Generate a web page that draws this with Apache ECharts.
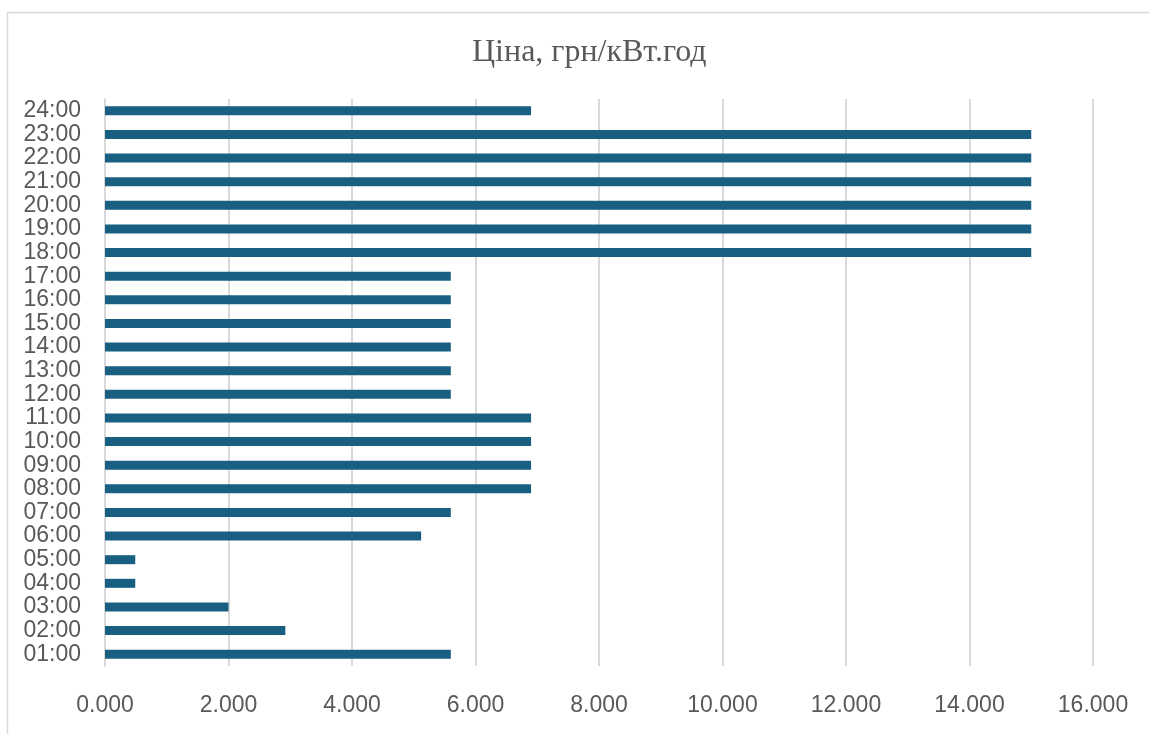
<!DOCTYPE html>
<html>
<head>
<meta charset="utf-8">
<script src="https://cdn.jsdelivr.net/npm/echarts@6/dist/echarts.min.js"></script>
<style>
  html, body { margin: 0; padding: 0; background: #fff; }
  #chart { width: 1149px; height: 734px; }
</style>
</head>
<body>
<div id="chart"></div>
<script>
// hours, bottom to top on the category axis
const hours = ['01:00', '02:00', '03:00', '04:00', '05:00', '06:00', '07:00', '08:00',
  '09:00', '10:00', '11:00', '12:00', '13:00', '14:00', '15:00', '16:00',
  '17:00', '18:00', '19:00', '20:00', '21:00', '22:00', '23:00', '24:00']
// price, UAH per kWh
const prices = [5.6, 2.92, 2.0, 0.49, 0.49, 5.12, 5.6, 6.9,
  6.9, 6.9, 6.9, 5.6, 5.6, 5.6, 5.6, 5.6,
  5.6, 15.0, 15.0, 15.0, 15.0, 15.0, 15.0, 6.9]
const titleText = 'Ціна, грн/кВт.год'

const chart = echarts.init(document.getElementById('chart'))
chart.setOption({
  animation: false,
  title: {
    text: titleText,
    left: 467,
    top: 32,
    textStyle: {
      fontFamily: 'Liberation Serif',
      fontWeight: 'normal',
      fontSize: 32,
      color: '#595959'
    }
  },
  graphic: [{
    type: 'rect',
    shape: { x: 7.5, y: 12.5, width: 1200, height: 800 },
    style: { fill: 'none', stroke: '#d9d9d9', lineWidth: 1.5 },
    silent: true
  }],
  grid: {
    left: 105,
    right: 56,
    top: 99,
    bottom: 68
  },
  xAxis: {
    type: 'value',
    min: 0,
    max: 16,
    interval: 2,
    axisLine: { show: false },
    axisTick: { show: false },
    splitLine: { lineStyle: { color: '#d9d9d9', width: 2 } },
    axisLabel: {
      margin: 28,
      fontFamily: 'Liberation Sans',
      fontSize: 23,
      color: '#595959',
      formatter: v => v.toFixed(3)
    }
  },
  yAxis: {
    type: 'category',
    data: hours,
    axisLine: { lineStyle: { color: '#d9d9d9', width: 2 } },
    axisTick: { show: false },
    axisLabel: {
      margin: 24,
      fontFamily: 'Liberation Sans',
      fontSize: 23,
      color: '#595959',
      interval: 0
    }
  },
  series: [{
    type: 'bar',
    data: prices,
    barWidth: 9,
    itemStyle: { color: '#185f81' }
  }]
})
</script>
</body>
</html>
